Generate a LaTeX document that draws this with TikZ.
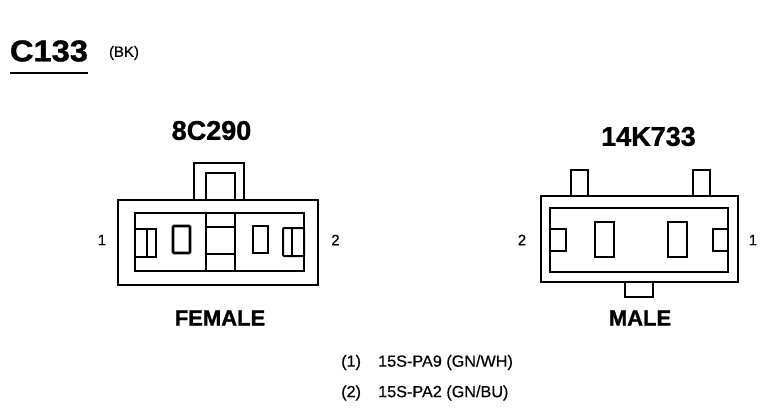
\documentclass[tikz,border=0pt]{standalone}
\usepackage{fontspec}
\setmainfont{Liberation Sans}
\newfontfamily\heavyfont[FakeBold=1.2]{Liberation Sans Bold}
\newfontfamily\plainfont[FakeBold=0.5]{Liberation Sans}
\newcommand{\px}[1]{\fontsize{#1}{#1}\selectfont}
\tikzset{
    partbox/.style={draw, line width=2.6pt, inner sep=0pt, outer sep=0pt, rectangle},
    thinbox/.style={draw, line width=2pt, inner sep=0pt, outer sep=0pt, rectangle},
    pinlabel/.style={font=\plainfont\px{15}, inner sep=0pt},
    wirelabel/.style={font=\plainfont\px{16.2}, inner sep=0pt, anchor=west},
    partname/.style={font=\heavyfont\px{27}, inner sep=0pt},
    gender/.style={font=\heavyfont\px{22}, inner sep=0pt}
}
\begin{document}
\begin{tikzpicture}[x=1pt, y=-1pt]
    \useasboundingbox (0,0) rectangle (772,416);

    % Titolo
    \node[font=\heavyfont\px{30}, inner sep=0pt, xscale=1.09] (title) at (49,51) {C133};
    \node[pinlabel] (title_col) at (124,53) {(BK)};
    \draw[line width=2pt] (title.west |- 0,73) coordinate (rule_a) -- (title.east |- 0,73) coordinate (rule_b);

    % Connettore femmina
    \node[partname] (f_name) at (211.5,130.5) {8C290};
    \node[partbox, minimum width=50pt, minimum height=37pt] (f_tab) at (219,181.5) {};
    \node[partbox, minimum width=29pt, minimum height=27pt] (f_tabin) at (220.5,186.5) {};
    \node[partbox, minimum width=200pt, minimum height=85pt] (f_outer) at (218,242.5) {};
    \node[partbox, minimum width=169pt, minimum height=58pt] (f_inner) at (219.5,242) {};
    \node[partbox, minimum width=29pt, minimum height=58pt] (f_col) at (220.5,242) {};
    \node[partbox, minimum width=29pt, minimum height=27pt] (f_mid) at (220.5,240.5) {};
    \node[thinbox, minimum width=21pt, minimum height=28pt] (f_t1) at (145.5,243) {};
    \node[thinbox, minimum width=9pt, minimum height=28pt] (f_t1b) at (151.5,243) {};
    \node[partbox, rounded corners=1pt, minimum width=17pt, minimum height=27pt] (f_p1) at (181.5,239.5) {};
    \node[partbox, minimum width=15pt, minimum height=27pt] (f_p2) at (260.5,239.5) {};
    \node[thinbox, rounded corners=1pt, minimum width=21pt, minimum height=28pt] (f_t2) at (293.5,242) {};
    \node[thinbox, minimum width=12pt, minimum height=28pt] (f_t2b) at (298,242) {};
    \node[pinlabel] (f_pin1) at (102,240) {1};
    \node[pinlabel] (f_pin2) at (335.5,240) {2};
    \node[gender] (f_gender) at (220,318) {FEMALE};

    % Connettore maschio
    \node[partname] (m_name) at (648.5,136.5) {14K733};
    \node[partbox, minimum width=17pt, minimum height=26pt] (m_tab1) at (579.5,183) {};
    \node[partbox, minimum width=17pt, minimum height=26pt] (m_tab2) at (701.5,183) {};
    \node[partbox, minimum width=28pt, minimum height=15pt] (m_tab3) at (639,289.5) {};
    \node[partbox, minimum width=197pt, minimum height=86pt] (m_outer) at (639.5,239) {};
    \node[partbox, minimum width=178pt, minimum height=64pt] (m_inner) at (639,240) {};
    \node[partbox, minimum width=16pt, minimum height=22pt] (m_t1) at (558,240) {};
    \node[partbox, minimum width=15pt, minimum height=22pt] (m_t2) at (720.5,240) {};
    \node[partbox, minimum width=19pt, minimum height=35pt] (m_p1) at (604.5,239.5) {};
    \node[partbox, minimum width=19pt, minimum height=35pt] (m_p2) at (677.5,239.5) {};
    \node[pinlabel] (m_pin2) at (522,240) {2};
    \node[pinlabel] (m_pin1) at (753,240) {1};
    \node[gender] (m_gender) at (640,318) {MALE};

    % Cavi
    \node[wirelabel] (w1_pin) at (341,362.5) {(1)};
    \node[wirelabel] (w1_txt) at (378,362.5) {15S-PA9 (GN/WH)};
    \node[wirelabel] (w2_pin) at (341,393) {(2)};
    \node[wirelabel] (w2_txt) at (378,393) {15S-PA2 (GN/BU)};
\end{tikzpicture}
\end{document}
